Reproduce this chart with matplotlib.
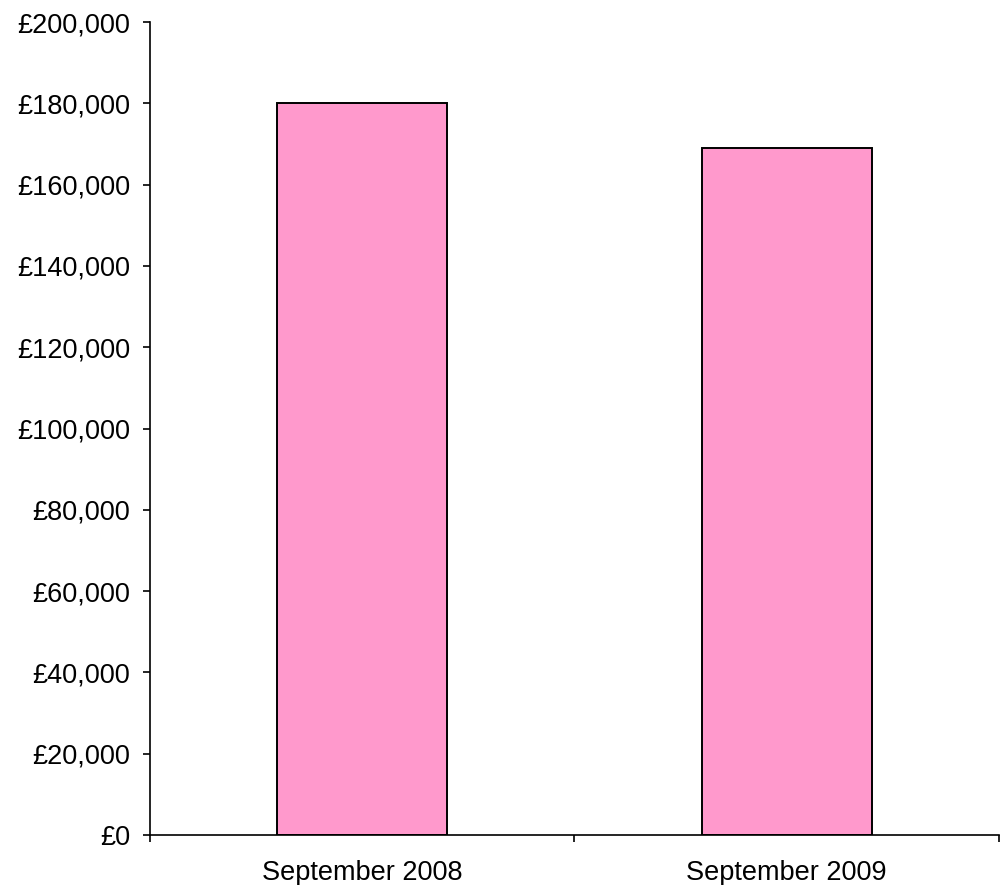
import matplotlib.pyplot as plt
from matplotlib.ticker import FuncFormatter, FixedLocator

plt.rcParams["font.family"] = ["Liberation Sans", "DejaVu Sans"]

categories = ["September 2008", "September 2009"]
values = [180000, 169000]
y_ticks = list(range(0, 200001, 20000))

fig = plt.figure(figsize=(10.07, 8.85), dpi=100)
ax = fig.add_axes([0.1485, 0.0565, 0.8435, 0.9185])

x = list(range(len(categories)))
ax.bar(x, values, width=0.4, color="#FF99CC", edgecolor="black", linewidth=1.4)

ax.set_xlim(-0.5, len(categories) - 0.5)
ax.set_ylim(0, 200000)
ax.set_yticks(y_ticks)
ax.yaxis.set_major_formatter(FuncFormatter(lambda v, _: f"£{int(v):,}"))

# category boundaries get the tick marks, labels sit at the bar centres
ax.xaxis.set_major_locator(FixedLocator([i - 0.5 for i in range(len(categories) + 1)]))
ax.xaxis.set_major_formatter(FuncFormatter(lambda v, _: ""))
ax.xaxis.set_minor_locator(FixedLocator(x))
ax.set_xticklabels(categories, minor=True)

ax.tick_params(axis="both", which="major", direction="out", length=5, width=1.2,
               labelsize=19.5, colors="black")
ax.tick_params(axis="y", pad=9)
ax.tick_params(axis="x", which="minor", length=0, labelsize=19.5, pad=18)

for side in ("top", "right"):
    ax.spines[side].set_visible(False)
for side in ("left", "bottom"):
    ax.spines[side].set_linewidth(1.2)

fig.savefig("out.png", dpi=100)
